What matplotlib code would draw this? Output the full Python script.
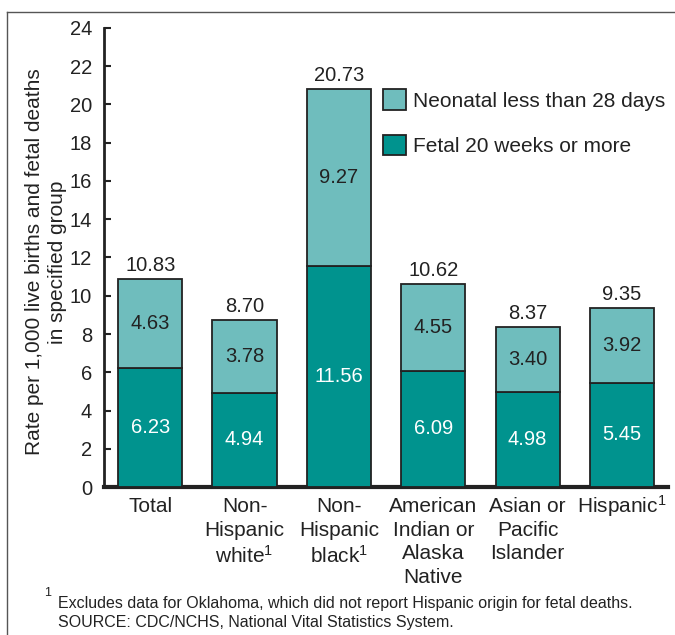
import numpy as np
import matplotlib
matplotlib.use("Agg")
import matplotlib.pyplot as plt
from matplotlib.lines import Line2D
from matplotlib.transforms import ScaledTranslation

plt.rcParams['font.family'] = ['Liberation Sans', 'DejaVu Sans']
plt.rcParams['mathtext.fontset'] = 'custom'
plt.rcParams['mathtext.rm'] = 'Liberation Sans'
plt.rcParams['mathtext.it'] = 'Liberation Sans'

# data
categories = ["Total", "Non-\nHispanic\nwhite$^{1}$", "Non-\nHispanic\nblack$^{1}$",
              "American\nIndian or\nAlaska\nNative", "Asian or\nPacific\nIslander", "Hispanic$^{1}$"]
fetal = [6.23, 4.94, 11.56, 6.09, 4.98, 5.45]
neonatal = [4.63, 3.78, 9.27, 4.55, 3.40, 3.92]
totals = [10.83, 8.70, 20.73, 10.62, 8.37, 9.35]

DARK = '#00938e'
LIGHT = '#6fbdbd'
INK = '#222222'

fig = plt.figure(figsize=(6.75, 6.35), dpi=100)
ax = fig.add_axes([0.154, 0.233, 0.836, 0.723])

x = np.arange(len(categories))
w = 0.68
ax.bar(x, fetal, w, color=DARK, edgecolor=INK, linewidth=1.3,
       label='Fetal 20 weeks or more', zorder=3)
ax.bar(x, neonatal, w, bottom=fetal, color=LIGHT, edgecolor=INK, linewidth=1.3,
       label='Neonatal less than 28 days', zorder=3)

for i in range(len(x)):
    ax.text(x[i], fetal[i] / 2, f"{fetal[i]:.2f}", ha='center', va='center',
            color='white', fontsize=14.5)
    ax.text(x[i], fetal[i] + neonatal[i] / 2, f"{neonatal[i]:.2f}", ha='center',
            va='center', color=INK, fontsize=14.5)
    ax.text(x[i], fetal[i] + neonatal[i] + 0.2, f"{totals[i]:.2f}", ha='center',
            va='bottom', color=INK, fontsize=14.5)

ax.set_xlim(-0.49, len(x) - 1 + 0.49)
ax.set_ylim(0, 24)
ax.set_yticks(range(0, 25, 2))
ax.tick_params(axis='y', direction='in', length=5, width=1.5, labelsize=14.5,
               pad=8.5, colors=INK)
ax.set_xticks(x)
ax.set_xticklabels(categories, fontsize=15, va='top', linespacing=1.32, color=INK)
ax.tick_params(axis='x', length=0, pad=7)

for s in ['top', 'right']:
    ax.spines[s].set_visible(False)
ax.spines['left'].set_linewidth(2)
ax.spines['bottom'].set_linewidth(3)
ax.spines['left'].set_color(INK)
ax.spines['bottom'].set_color(INK)

ax.set_ylabel("Rate per 1,000 live births and fetal deaths\nin specified group",
              fontsize=15, linespacing=1.22, color=INK)
ax.yaxis.set_label_coords(-0.066, 0.49)

h, l = ax.get_legend_handles_labels()
ax.legend(h[::-1], l[::-1], loc='upper left', bbox_to_anchor=(0.495, 0.866),
          frameon=False, fontsize=15, handlelength=1.1, handleheight=1.15,
          labelspacing=1.15, handletextpad=0.35, borderpad=0, borderaxespad=0,
          labelcolor=INK)

fig.text(0.066, 0.066, "1", fontsize=9, color=INK, va='center')
fig.text(0.086, 0.050, "Excludes data for Oklahoma, which did not report Hispanic origin for fetal deaths.",
         fontsize=11.5, color=INK, va='center')
fig.text(0.086, 0.020, "SOURCE: CDC/NCHS, National Vital Statistics System.",
         fontsize=11.5, color=INK, va='center')

# frame lines (top and left)
fig.add_artist(Line2D([0.0104, 1.0], [0.981, 0.981], color='#555555', lw=1))
fig.add_artist(Line2D([0.0104, 0.0104], [0.0, 0.981], color='#555555', lw=1))

# the superscript makes the single-line Hispanic label sit lower; nudge it up
lab = ax.get_xticklabels()[-1]
lab.set_transform(lab.get_transform() + ScaledTranslation(0, 3 / 72, fig.dpi_scale_trans))

fig.savefig("out.png", dpi=100)
